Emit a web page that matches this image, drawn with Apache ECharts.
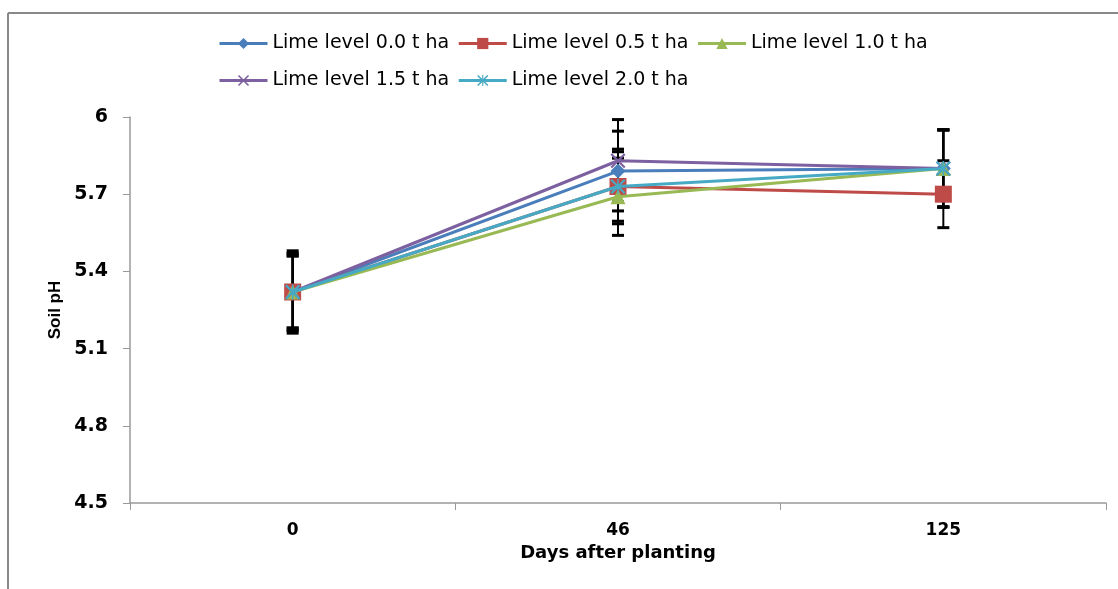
<!DOCTYPE html>
<html>
<head>
<meta charset="utf-8">
<script src="https://cdn.jsdelivr.net/npm/echarts@6/dist/echarts.min.js"></script>
<style>
html,body{margin:0;padding:0;background:#fff;}
#c{width:1118px;height:589px;}
</style>
</head>
<body>
<div id="c"></div>
<script>
const categories = ['0', '46', '125'];
const seriesNames = ['Lime level 0.0 t ha', 'Lime level 0.5 t ha', 'Lime level 1.0 t ha', 'Lime level 1.5 t ha', 'Lime level 2.0 t ha'];
const lime00 = [5.32, 5.79, 5.80];
const lime05 = [5.32, 5.73, 5.70];
const lime10 = [5.32, 5.69, 5.80];
const lime15 = [5.32, 5.83, 5.80];
const lime20 = [5.32, 5.73, 5.80];
const err00 = [0.15, 0.155, 0.15];
const err05 = [0.14, 0.145, 0.13];
const err10 = [0.16, 0.15, 0.15];
const err15 = [0.14, 0.16, 0.15];
const err20 = [0.15, 0.135, 0.15];
const yTicks = { min: 4.5, max: 6, interval: 0.3 };

const values = [lime00, lime05, lime10, lime15, lime20];
const errors = [err00, err05, err10, err15, err20];
const colors = ['#4A7EBB', '#BE4B48', '#98B954', '#7D60A0', '#46AAC5'];
const xPath = 'path://M0,1L1,0L10,9L9,10Z M9,0L10,1L1,10L0,9Z';
const starPath = 'path://M0,1L1,0L10,9L9,10Z M9,0L10,1L1,10L0,9Z M4.5,0L5.5,0L5.5,10L4.5,10Z';
const symbols = ['diamond', 'rect', 'triangle', xPath, starPath];
const symbolSizes = [15, 17, 15, 15, 15];

const series = [];
values.forEach((vals, i) => {
  series.push({
    type: 'custom',
    name: seriesNames[i] + ' err',
    z: 1,
    silent: true,
    data: vals.map((v, j) => [j, v, errors[i][j]]),
    renderItem: function (params, api) {
      const x = api.value(0), v = api.value(1), e = api.value(2);
      const top = api.coord([x, v + e]);
      const bot = api.coord([x, v - e]);
      const hw = 6;
      return {
        type: 'group',
        children: [
          { type: 'line', shape: { x1: top[0], y1: top[1], x2: bot[0], y2: bot[1] }, style: { stroke: '#000', lineWidth: 2 } },
          { type: 'line', shape: { x1: top[0] - hw, y1: top[1], x2: top[0] + hw, y2: top[1] }, style: { stroke: '#000', lineWidth: 3 } },
          { type: 'line', shape: { x1: bot[0] - hw, y1: bot[1], x2: bot[0] + hw, y2: bot[1] }, style: { stroke: '#000', lineWidth: 3 } }
        ]
      };
    }
  });
});
values.forEach((vals, i) => {
  series.push({
    type: 'line',
    name: seriesNames[i],
    z: 2 + i,
    data: vals,
    symbol: symbols[i],
    symbolSize: symbolSizes[i],
    showAllSymbol: true,
    lineStyle: { color: colors[i], width: 3 },
    itemStyle: { color: colors[i], borderColor: colors[i], borderWidth: 0, opacity: 1 },
    emphasis: { disabled: true },
    animation: false
  });
});

const legendBase = {
  left: 213,
  itemWidth: 48,
  itemHeight: 14,
  itemGap: 8,
  lineStyle: { width: 3 },
  textStyle: { fontFamily: 'DejaVu Sans', fontSize: 19, color: '#000' },
  selectedMode: false
};

const chart = echarts.init(document.getElementById('c'), null, { renderer: 'canvas' });
chart.setOption({
  animation: false,
  backgroundColor: '#fff',
  graphic: [
    { type: 'line', shape: { x1: 8, y1: 13, x2: 1118, y2: 13 }, style: { stroke: '#888', lineWidth: 2 } },
    { type: 'line', shape: { x1: 8, y1: 13, x2: 8, y2: 589 }, style: { stroke: '#888', lineWidth: 2 } }
  ],
  legend: [
    Object.assign({}, legendBase, { top: 29, data: seriesNames.slice(0, 3) }),
    Object.assign({}, legendBase, { top: 66, data: seriesNames.slice(3) })
  ],
  grid: { left: 130, right: 12, top: 117, bottom: 86 },
  xAxis: {
    type: 'category',
    data: categories,
    boundaryGap: true,
    name: 'Days after planting',
    nameLocation: 'middle',
    nameGap: 41,
    nameTextStyle: { fontFamily: 'DejaVu Sans', fontWeight: 'bold', fontSize: 18, color: '#000' },
    axisLine: { lineStyle: { color: '#999', width: 1.5 } },
    axisTick: { show: true, length: 7, lineStyle: { color: '#999' } },
    axisLabel: { fontFamily: 'DejaVu Sans', fontWeight: 'bold', fontSize: 17, color: '#000', margin: 19 }
  },
  yAxis: {
    type: 'value',
    min: yTicks.min,
    max: yTicks.max,
    interval: yTicks.interval,
    name: 'Soil pH',
    nameLocation: 'middle',
    nameGap: 66,
    nameTextStyle: { fontFamily: 'Liberation Sans', fontWeight: 'bold', fontSize: 17, color: '#000' },
    axisLine: { show: true, lineStyle: { color: '#999', width: 1.5 } },
    axisTick: { show: true, length: 7, lineStyle: { color: '#999' } },
    splitLine: { show: false },
    axisLabel: { fontFamily: 'DejaVu Sans', fontWeight: 'bold', fontSize: 19, color: '#000', margin: 22,
      formatter: v => String(Math.round(v * 10) / 10) }
  },
  series: series
});
</script>
</body>
</html>
